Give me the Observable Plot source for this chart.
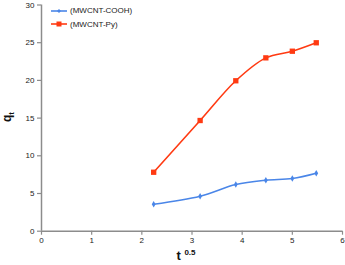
<!DOCTYPE html>
<html><head><meta charset="utf-8">
<script src="https://cdn.jsdelivr.net/npm/d3@7"></script>
<script src="https://cdn.jsdelivr.net/npm/@observablehq/plot@0.6"></script>
<style>
html,body{margin:0;padding:0;background:#fff;}
#wrap{position:relative;width:345px;height:265px;font-family:"Liberation Sans",Arial,sans-serif;}
#legend{position:absolute;left:51px;top:4px;font-size:8px;color:#222;line-height:13.5px;}
#legend div{display:flex;align-items:center;}
#legend svg{margin-right:3px;}
</style>
</head><body>
<div id="wrap"><div id="legend"></div></div>
<script>
const seriesNames = ["(MWCNT-COOH)", "(MWCNT-Py)"];
const seriesColors = ["#4a86e8", "#ff3a12"];
const tValues = [2.236, 3.162, 3.873, 4.472, 5.0, 5.477];
const cooh = [3.58, 4.64, 6.19, 6.76, 6.99, 7.69];
const py = [7.82, 14.68, 19.95, 22.99, 23.87, 24.99];
const xTicks = [0, 1, 2, 3, 4, 5, 6];
const yTicks = [0, 5, 10, 15, 20, 25, 30];

const data = [];
tValues.forEach((t, i) => {
  data.push({t, q: cooh[i], s: seriesNames[0]});
  data.push({t, q: py[i], s: seriesNames[1]});
});
const dCooh = data.filter(d => d.s === seriesNames[0]);
const dPy = data.filter(d => d.s === seriesNames[1]);

const axisColor = "#8c8c8c";
const chart = Plot.plot({
  width: 345, height: 265,
  marginLeft: 41, marginRight: 3, marginTop: 4.5, marginBottom: 34.3,
  style: {fontFamily: "'Liberation Sans', Arial, sans-serif", fontSize: "8px", color: "#222", background: "#fff"},
  x: {domain: [0, 6], label: null},
  y: {domain: [0, 30], label: null},
  marks: [
    Plot.axisX({ticks: xTicks, tickFormat: "d", tickSize: 4, tickPadding: 2, stroke: axisColor, strokeWidth: 1.2, strokeOpacity: 1, label: null, color: "#222"}),
    Plot.axisY({ticks: yTicks, tickFormat: "d", tickSize: 4, tickPadding: 3, stroke: axisColor, strokeWidth: 1.2, strokeOpacity: 1, label: null, color: "#222"}),
    Plot.ruleY([0], {stroke: axisColor, strokeWidth: 1.5}),
    Plot.ruleX([0], {stroke: axisColor, strokeWidth: 1.5}),
    Plot.line(dCooh, {x: "t", y: "q", stroke: seriesColors[0], strokeWidth: 1.6, curve: "catmull-rom"}),
    Plot.line(dPy, {x: "t", y: "q", stroke: seriesColors[1], strokeWidth: 1.6, curve: "catmull-rom"}),
    Plot.dot(dCooh, {x: "t", y: "q", fill: seriesColors[0], symbol: "diamond", r: 2}),
    Plot.dot(dPy, {x: "t", y: "q", fill: seriesColors[1], symbol: "square", r: 3})
  ]
});
const wrap = document.getElementById("wrap");
wrap.appendChild(chart);

const svg = d3.select(chart);
svg.append("text")
  .attr("transform", "translate(11,117) rotate(-90)")
  .attr("text-anchor", "middle")
  .attr("font-size", "12px").attr("font-weight", "bold").attr("fill", "#111")
  .attr("font-family", "'Liberation Sans', Arial, sans-serif")
  .html('q<tspan font-size="8px" dy="3">t</tspan>');
const xl = svg.append("text")
  .attr("x", 186).attr("y", 260)
  .attr("font-weight", "bold").attr("fill", "#111")
  .attr("font-family", "'Liberation Sans', Arial, sans-serif");
xl.append("tspan").attr("font-size", "13px").text("t ");
xl.append("tspan").attr("font-size", "8px").attr("dy", "-5").text("0.5");

const leg = d3.select("#legend");
seriesNames.forEach((name, i) => {
  const row = leg.append("div");
  const s = row.append("svg").attr("width", 16).attr("height", 8);
  s.append("line").attr("x1", 0).attr("x2", 16).attr("y1", 4).attr("y2", 4)
    .attr("stroke", seriesColors[i]).attr("stroke-width", 1.6);
  if (i === 0) s.append("path").attr("d", "M8,2L10,4L8,6L6,4Z").attr("fill", seriesColors[i]);
  else s.append("rect").attr("x", 5.5).attr("y", 1.5).attr("width", 5).attr("height", 5).attr("fill", seriesColors[i]);
  row.append("span").text(name);
});
</script>
</body></html>
